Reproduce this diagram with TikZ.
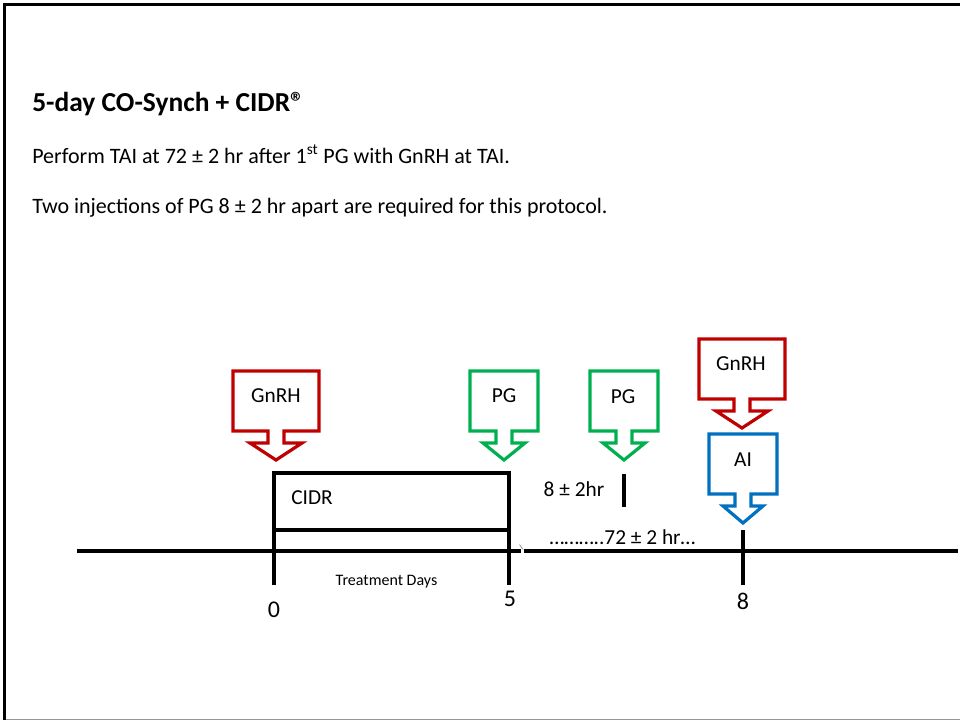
\documentclass[tikz,border=0pt]{standalone}
\usepackage{fontspec}
\setmainfont{Carlito}
\definecolor{gnrhred}{RGB}{192,0,0}
\definecolor{pggreen}{RGB}{0,176,80}
\definecolor{aiblue}{RGB}{0,112,192}
\definecolor{edgegray}{RGB}{150,150,150}

\tikzset{
  axisline/.style={line width=2.5pt,black},
  calloutline/.style={line width=2.4pt,line join=miter},
  label/.style={inner sep=0pt,anchor=base,font=\fontsize{16pt}{19pt}\selectfont},
  daylabel/.style={inner sep=0pt,anchor=base,font=\fontsize{18pt}{21pt}\selectfont},
  bodytext/.style={inner sep=0pt,anchor=base west,font=\fontsize{16.5pt}{19pt}\selectfont},
}

% Down-pointing callout: #1 colour, #2 centre x, #3 top y,
% #4 half width of the box, #5 half width of the arrow head
\newcommand\downcallout[5]{%
  \draw[calloutline,#1]
    ({#2-#4},#3) -- ({#2+#4},#3) -- ({#2+#4},#3+60) -- ({#2+8},#3+60)
    -- ({#2+8},#3+72) -- ({#2+#5},#3+72) -- (#2,#3+89) -- ({#2-#5},#3+72)
    -- ({#2-8},#3+72) -- ({#2-8},#3+60) -- ({#2-#4},#3+60) -- cycle;}

\begin{document}
\begin{tikzpicture}[x=0.75pt,y=-0.75pt]
  \useasboundingbox (0,0) rectangle (960,721);
  \fill[white] (0,0) rectangle (960,721);

  % page frame
  \draw[edgegray,line width=0.8pt] (4,719.5) -- (960,719.5);
  \draw[line width=2pt] (4.5,719.5) -- (4.5,4.5) -- (960,4.5);

  % heading and notes
  \node[inner sep=0pt,anchor=base west,font=\fontsize{20.6pt}{24pt}\selectfont\bfseries]
    (title) at (32,111) {5-day CO-Synch + CIDR®};
  \node[bodytext] (note1) at (32,163)
    {Perform TAI at 72 ± 2 hr after 1\textsuperscript{st} PG with GnRH at TAI.};
  \node[bodytext] (note2) at (32,213)
    {Two injections of PG 8 ± 2 hr apart are required for this protocol.};

  % time axis
  \coordinate (axisL) at (77,551);
  \coordinate (axisM) at (521,551);
  \coordinate (axisN) at (524,551);
  \coordinate (axisR) at (958,551);
  \draw[axisline] (axisL) -- (axisM);
  \draw[axisline] (axisN) -- (axisR);
  \draw[edgegray,line width=0.6pt] (519.5,544.5) -- (523,549.5);

  % CIDR insert period, days 0 to 5
  \coordinate (d0top) at (274,473);
  \coordinate (d0bot) at (274,585);
  \coordinate (d5top) at (509,473);
  \coordinate (d5bot) at (509,585);
  \draw[axisline] (d0bot) -- (d0top) -- (d5top) -- (d5bot);
  \draw[axisline] (274,530) -- (509,530);
  \node[label,anchor=base west] (cidr) at (291,504.5) {CIDR};
  \node[inner sep=0pt,anchor=base,font=\fontsize{12pt}{14pt}\selectfont]
    (tdays) at (386.5,585) {Treatment Days};

  % second PG mark
  \coordinate (pgtop) at (624,474);
  \coordinate (pgbot) at (624,507);
  \draw[axisline] (pgtop) -- (pgbot);
  \node[label] (gap8) at (574,496.5) {8 ± 2hr};
  \node[label] (gap72) at (622.5,544) {………..72 ± 2 hr…};

  % day 8 mark
  \coordinate (d8top) at (743,530);
  \coordinate (d8bot) at (743,585);
  \draw[axisline] (d8top) -- (d8bot);

  % day numbers
  \node[daylabel] (day0) at (274,617) {0};
  \node[daylabel] (day5) at (510,606) {5};
  \node[daylabel] (day8) at (743,609) {8};

  % injection and insemination callouts
  \downcallout{gnrhred}{276}{371}{43}{26}
  \node[label] (gnrh1) at (276,402.5) {GnRH};
  \downcallout{pggreen}{504}{371}{34}{21}
  \node[label] (pg1) at (504,402.5) {PG};
  \downcallout{pggreen}{624}{371}{34}{21}
  \node[label] (pg2) at (623,403) {PG};
  \downcallout{gnrhred}{742}{339}{43}{26}
  \node[label] (gnrh2) at (741,370) {GnRH};
  \downcallout{aiblue}{743}{434}{34}{20}
  \node[label] (ai) at (743,466.5) {AI};
\end{tikzpicture}
\end{document}
